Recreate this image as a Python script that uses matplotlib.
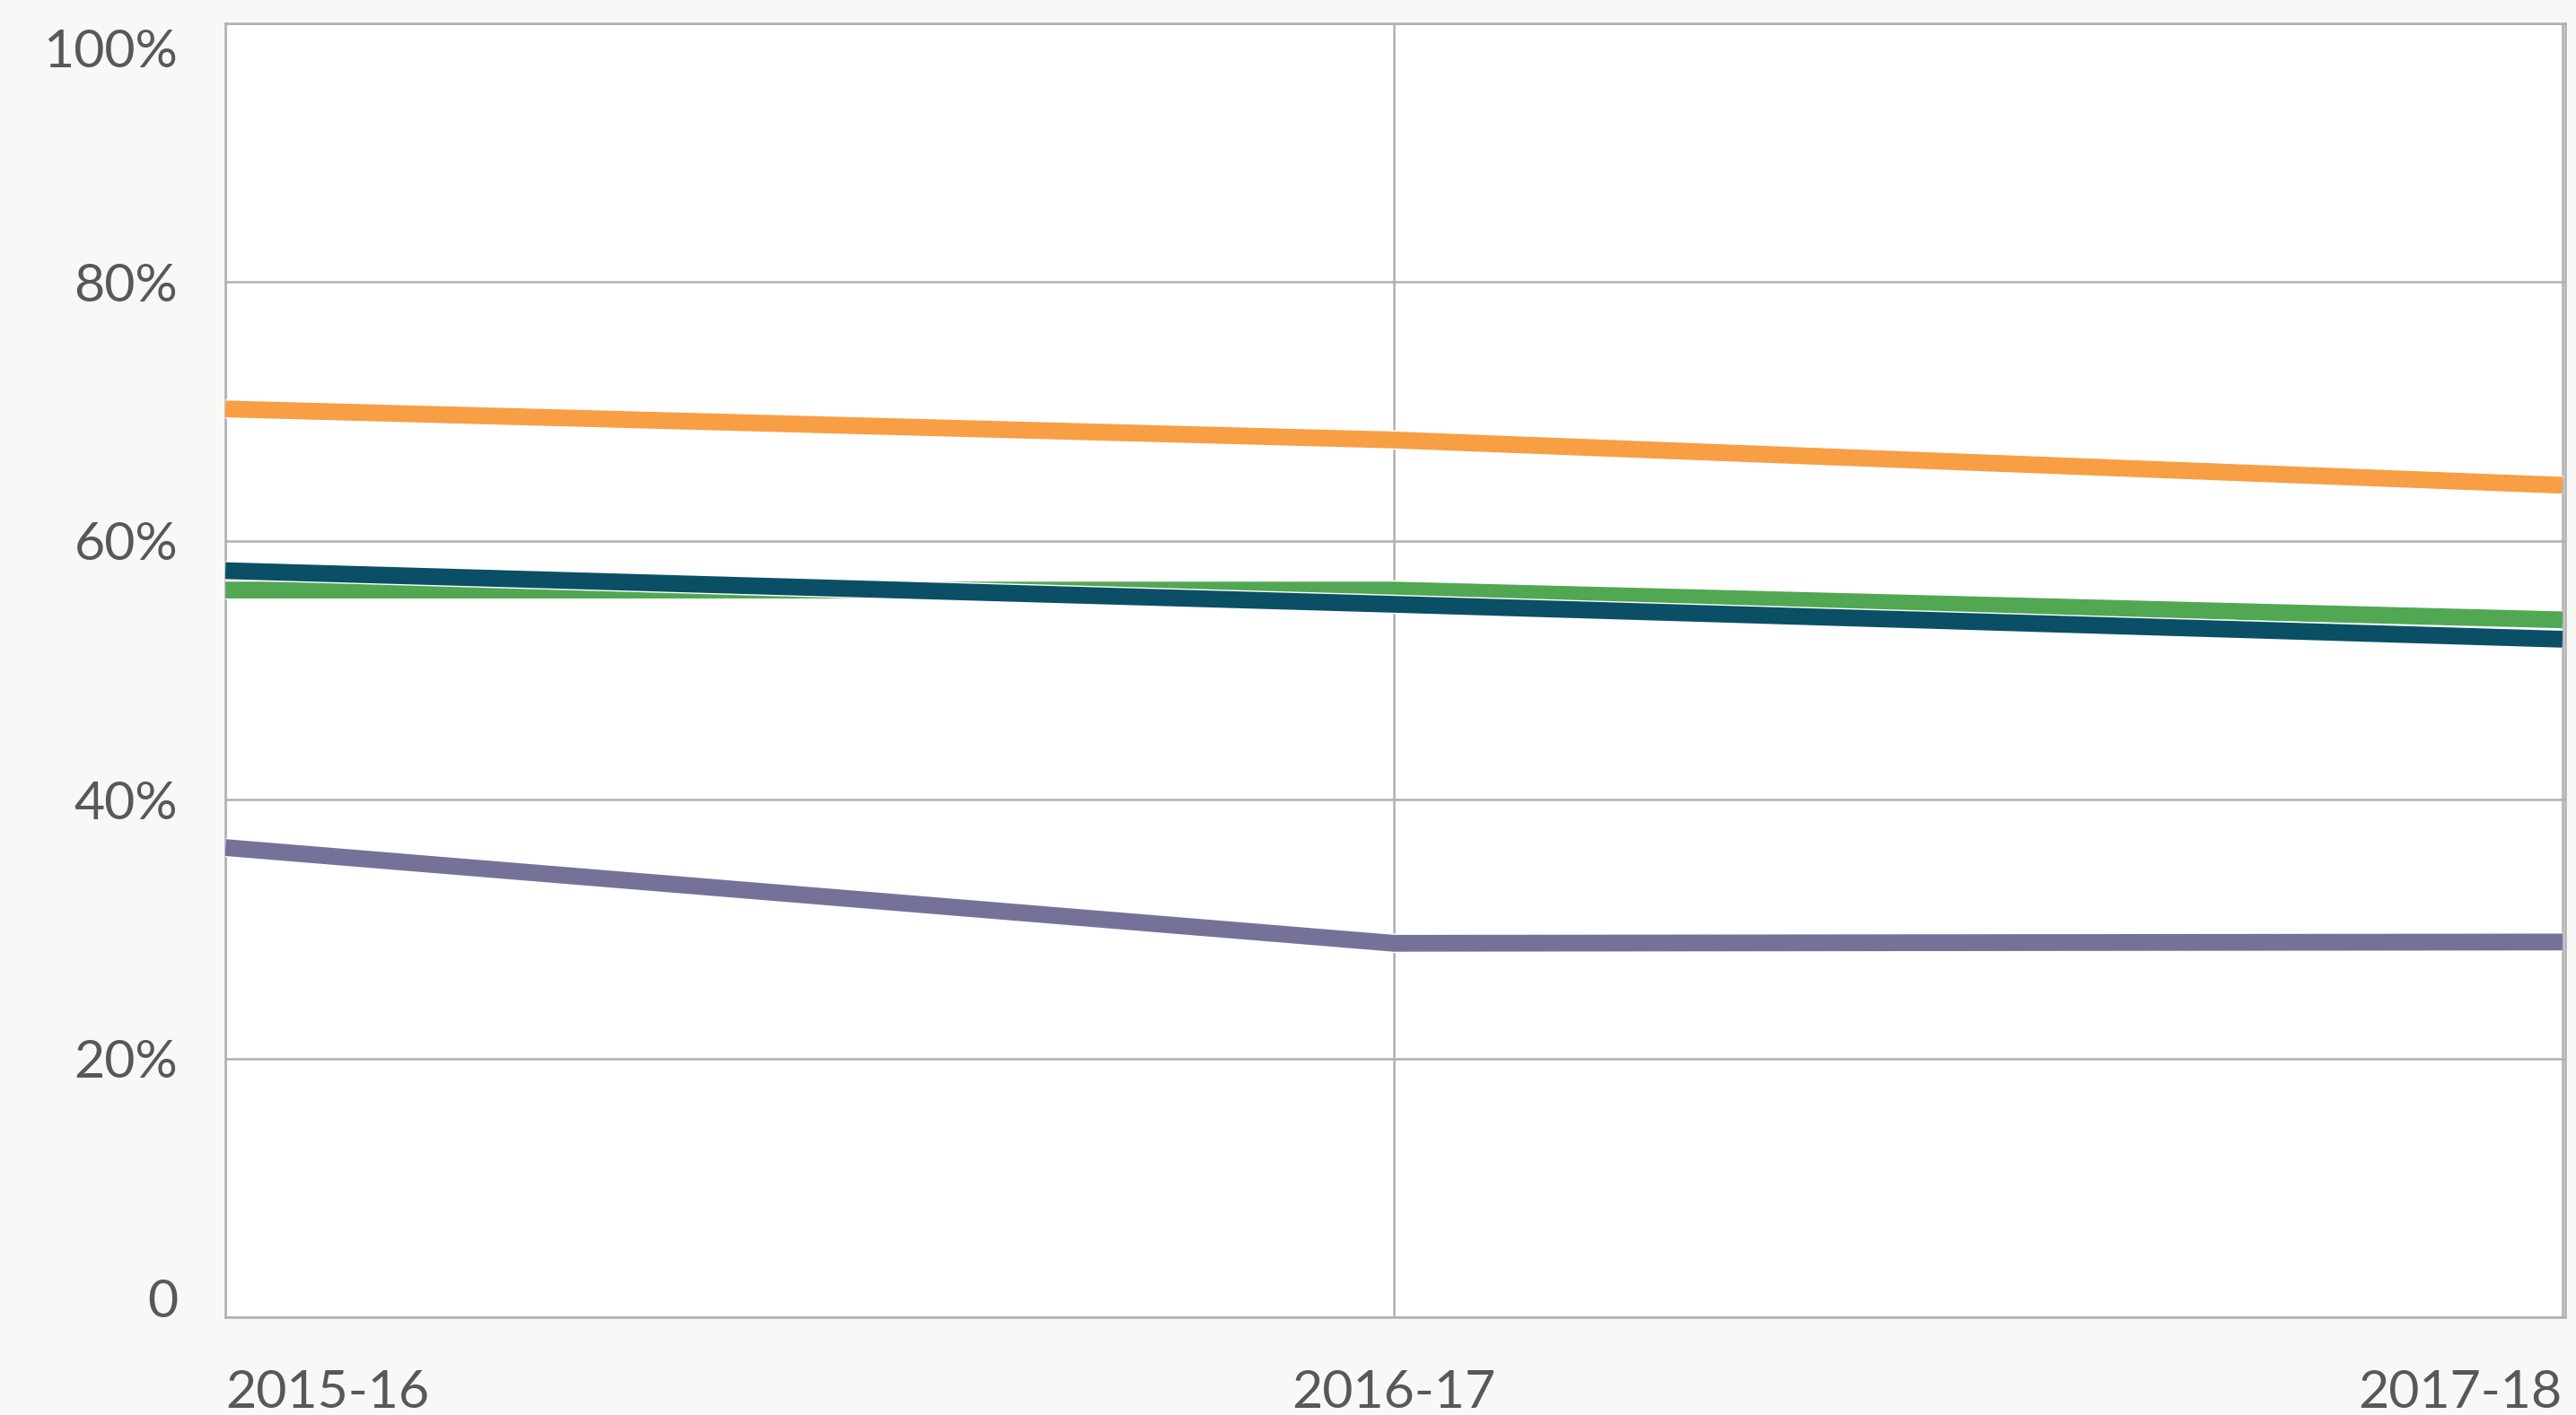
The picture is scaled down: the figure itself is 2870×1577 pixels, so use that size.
import numpy as np
import matplotlib
matplotlib.use('Agg')
import matplotlib.pyplot as plt
import matplotlib.patheffects as pe
from matplotlib.transforms import ScaledTranslation

# years on the x axis
years = ['2015-16', '2016-17', '2017-18']

# percentages
orange_vals = [70.2, 67.8, 64.3]
green_vals = [56.2, 56.2, 53.9]
navy_vals = [57.7, 55.1, 52.4]
purple_vals = [36.3, 28.9, 29.0]

colors = {'orange': '#F89E45', 'green': '#52A753', 'navy': '#0B4F66', 'purple': '#75729A'}

y_ticks = [0, 20, 40, 60, 80, 100]
y_labels = ['0', '20%', '40%', '60%', '80%', '100%']

plt.rcParams['font.family'] = ['Lato', 'DejaVu Sans']

fig = plt.figure(figsize=(28.7, 15.77), dpi=100, facecolor='#f8f8f7')
ax = fig.add_axes([0.0875, 0.0691, 0.9083, 0.9144])
ax.set_facecolor('white')

x = np.arange(len(years))
halo = [pe.Stroke(linewidth=15.5, foreground='white'), pe.Normal()]
ax.plot(x, purple_vals, color=colors['purple'], lw=13.5, solid_capstyle='butt', path_effects=halo, zorder=3)
ax.plot(x, orange_vals, color=colors['orange'], lw=13.5, solid_capstyle='butt', path_effects=halo, zorder=3)
ax.plot(x, green_vals, color=colors['green'], lw=13.5, solid_capstyle='butt', path_effects=halo, zorder=3)
ax.plot(x, navy_vals, color=colors['navy'], lw=13.5, solid_capstyle='butt', path_effects=halo, zorder=4)

ax.set_xlim(0, 2.0023)
ax.set_ylim(0, 100)

gridc = '#b0b0b3'
ax.set_yticks(y_ticks)
ax.set_yticklabels(y_labels)
ax.set_xticks(x)
ax.set_xticklabels(years)
ax.grid(True, color=gridc, lw=1.8, zorder=1)
for s in ax.spines.values():
    s.set_color(gridc)
    s.set_linewidth(1.8)

ax.tick_params(length=0, labelsize=42.5, labelcolor='#58585a')
ax.tick_params(axis='y', pad=38)
ax.tick_params(axis='x', pad=42)

ylabs = ax.get_yticklabels()
ylabs[0].set_va('baseline')
ylabs[-1].set_va('top')
ylabs[-1].set_transform(ylabs[-1].get_transform() + ScaledTranslation(0, -0.06, fig.dpi_scale_trans))
xlabs = ax.get_xticklabels()
xlabs[0].set_ha('left')
xlabs[-1].set_ha('right')

fig.savefig('out.png', dpi=100, facecolor=fig.get_facecolor())
